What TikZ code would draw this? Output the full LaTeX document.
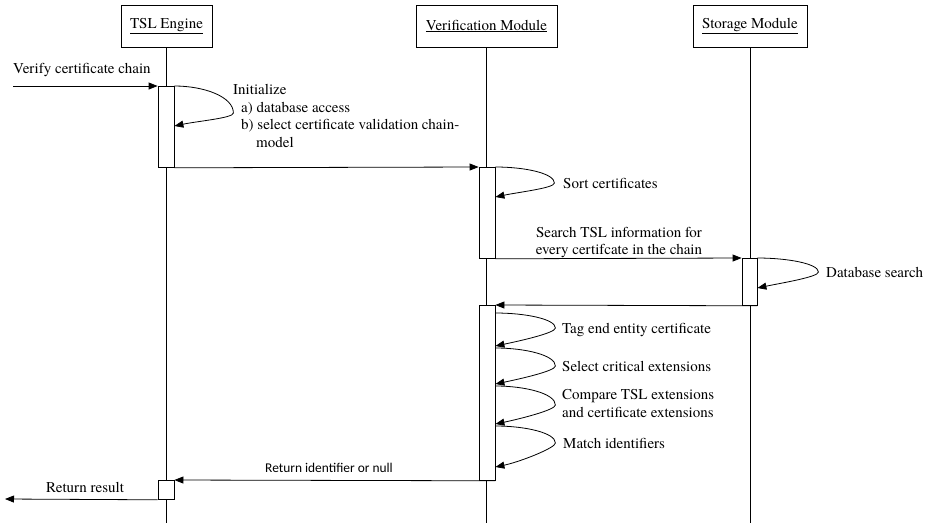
\documentclass[tikz,border=0pt]{standalone}
\usepackage{fontspec}
\setmainfont{TeX Gyre Termes}
\usetikzlibrary{arrows.meta}
% self message: #1 anchor on the bar, #2 start drop, #3 apex drop, #4 end drop, #5 apex reach
\newcommand{\seqloop}[5]{%
  \pgfmathsetmacro\seqk{0.6*(#3-#2)}%
  \draw[selfmsg] ([yshift=-#2pt]#1) .. controls +(30,0) and +(0,-\seqk) ..
    ([xshift=#5pt,yshift=-#3pt]#1) .. controls +(0,5) and +(24,-5) ..
    ([yshift=-#4pt]#1);}
\begin{document}
\begin{tikzpicture}[x=1pt,y=-1pt,
  every node/.style={font=\fontsize{15}{18}\selectfont},
  head/.style={draw, line width=0.8pt, minimum height=42pt, inner sep=0pt},
  lifeline/.style={line width=0.8pt},
  act/.style={draw, fill=white, line width=0.8pt, minimum width=16pt, inner sep=0pt, anchor=north},
  msg/.style={line width=0.8pt, -{Triangle[length=9pt,width=7pt]}},
  selfmsg/.style={line width=0.8pt, -{Triangle[length=9pt,width=7pt]}},
  lbl/.style={inner sep=0pt, anchor=base west},
  lblc/.style={inner sep=0pt, anchor=base},
  smalllbl/.style={font=\fontspec{Carlito}\fontsize{13.4}{16}\selectfont},
]
\useasboundingbox (0,0) rectangle (929,523);
\coordinate (bottom) at (0,523);

% participants
\node[head, minimum width=91pt]  (tsl) at (166.5,26) {\underline{TSL Engine}};
\node[head, minimum width=141pt] (ver) at (486.5,26) {\underline{Verification Module}};
\node[head, minimum width=114pt] (sto) at (750,26)   {\underline{Storage Module}};

% lifelines
\draw[lifeline] (tsl.south) -- (tsl.south |- bottom);
\draw[lifeline] (ver.south) -- (ver.south |- bottom);
\draw[lifeline] (sto.south) -- (sto.south |- bottom);

% activation bars
\node[act, minimum height=81pt]  (a1) at (166,86)  {};
\node[act, minimum height=91pt]  (a2) at (487,167) {};
\node[act, minimum height=47pt, minimum width=15pt] (a3) at (749.5,258) {};
\node[act, minimum height=175pt] (a4) at (487,305) {};
\node[act, minimum height=19pt]  (a5) at (166,480) {};

% messages
\coordinate (in)  at (13,86);
\coordinate (out) at (5,499);
\draw[msg] (in) -- (a1.north west);
\node[lbl] at (13,73) {Verify certificate chain};
\draw[msg] (a1.south east) -- (a2.north west);
\draw[msg] (a2.south east) -- (a3.north west);
\node[lblc] at (619,237) {Search TSL information for};
\node[lblc] at (619,254) {every certifcate in the chain};
\draw[msg] (a3.south east) -- (a4.north east);
\draw[msg] (a4.south east) -- (a5.north east);
\node[lblc, smalllbl] at (329,472) {Return identifier or null};
\draw[msg] (a5.south west) -- (out);
\node[lbl] at (46,492) {Return result};

% self messages
\seqloop{a1.north east}{0}{27}{40}{59}
\node[lbl] at (233,94)  {Initialize};
\node[lbl] at (241,112) {a) database access};
\node[lbl] at (241,129) {b) select certificate validation chain-};
\node[lbl] at (256,147) {model};

\seqloop{a2.north east}{0}{16}{30}{59}
\node[lbl] at (563,188) {Sort certificates};

\seqloop{a3.north east}{0}{14}{30}{61}
\node[lbl] at (826,277) {Database search};

\seqloop{a4.north east}{8}{23}{41}{60}
\node[lbl] at (562,333) {Tag end entity certificate};
\seqloop{a4.north east}{43}{61}{79}{60}
\node[lbl] at (562,371) {Select critical extensions};
\seqloop{a4.north east}{81}{100}{119}{60}
\node[lbl] at (562,399) {Compare TSL extensions};
\node[lbl] at (562,417) {and certificate extensions};
\seqloop{a4.north east}{121}{138}{162}{60}
\node[lbl] at (563,448) {Match identifiers};
\end{tikzpicture}
\end{document}
